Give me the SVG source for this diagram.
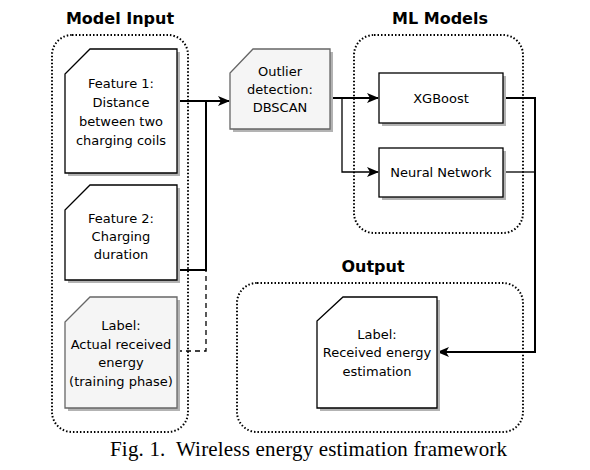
<svg xmlns="http://www.w3.org/2000/svg" width="590" height="470" viewBox="0 0 590 470">
<defs>
<style>
.cont{fill:none;stroke:#000;stroke-width:2;stroke-dasharray:1.5 2;}
.title{font-family:"DejaVu Sans",sans-serif;font-weight:bold;font-size:16px;fill:#000;text-anchor:middle;}
.lbl{font-family:"DejaVu Sans",sans-serif;font-size:13px;fill:#000;text-anchor:middle;}
.shadow{fill:#b3b3b3;stroke:none;}
.w{fill:#fff;stroke:#000;stroke-width:1.3;}
.g{fill:#f5f5f5;stroke:#666;stroke-width:1.3;}
.cap{font-family:"Liberation Serif",serif;font-size:21px;fill:#000;}
.c{fill:none;stroke:#000;stroke-width:2;}
.ct{fill:none;stroke:#000;stroke-width:1.3;}
</style>
<marker id="arr" viewBox="0 0 12 10" refX="11" refY="5" markerWidth="12" markerHeight="10" markerUnits="userSpaceOnUse" orient="auto">
<path d="M0,0 L12,5 L0,10 L3,5 Z" fill="#000"/>
</marker>
</defs>
<rect width="590" height="470" fill="#fff"/>

<g id="model-input">
<rect class="cont" x="52" y="35" width="136" height="397" rx="20"/>
<text class="title" x="120" y="24">Model Input</text>
</g>
<g id="ml-models">
<rect class="cont" x="354" y="35" width="169" height="198" rx="20"/>
<text class="title" x="440" y="24">ML Models</text>
</g>
<g id="output">
<rect class="cont" x="237" y="283" width="286" height="149" rx="20"/>
<text class="title" x="373" y="272">Output</text>
</g>

<g id="connectors">
<path class="c" d="M177,101 H229" marker-end="url(#arr)"/>
<path class="c" d="M177,270 H206 V101"/>
<path class="ct" d="M177,351 H206 V271" stroke-dasharray="5 4"/>
<path class="c" d="M330,98 H378" marker-end="url(#arr)"/>
<path class="ct" d="M342,98 V172 H378" marker-end="url(#arr)"/>
<path class="c" d="M503,98 H535 V352 H438" marker-end="url(#arr)"/>
<path class="ct" d="M503,172 H535"/>
</g>

<g id="feature1">
<path class="shadow" d="M93,52 H180 V176 H68 V76 Z"/>
<path class="w" d="M90,49 H177 V173 H65 V74 Z"/>
<text class="lbl" x="121" y="88">Feature 1:</text>
<text class="lbl" x="121" y="107">Distance</text>
<text class="lbl" x="121" y="126">between two</text>
<text class="lbl" x="121" y="145">charging coils</text>
</g>
<g id="feature2">
<path class="shadow" d="M93,188 H180 V283 H68 V213 Z"/>
<path class="w" d="M90,185 H177 V280 H65 V210 Z"/>
<text class="lbl" x="121" y="223">Feature 2:</text>
<text class="lbl" x="121" y="241">Charging</text>
<text class="lbl" x="121" y="259">duration</text>
</g>
<g id="label-actual">
<path class="shadow" d="M93,300 H180 V411 H68 V325 Z"/>
<path class="g" d="M90,297 H177 V408 H65 V322 Z"/>
<text class="lbl" x="121" y="330">Label:</text>
<text class="lbl" x="121" y="349">Actual received</text>
<text class="lbl" x="121" y="367">energy</text>
<text class="lbl" x="121" y="386">(training phase)</text>
</g>
<g id="outlier">
<path class="shadow" d="M256,52 H333 V132 H233 V76 Z"/>
<path class="g" d="M253,49 H330 V129 H230 V73 Z"/>
<text class="lbl" x="280" y="76">Outlier</text>
<text class="lbl" x="280" y="94">detection:</text>
<text class="lbl" x="280" y="112">DBSCAN</text>
</g>
<g id="xgboost">
<rect class="shadow" x="382" y="76" width="124" height="50"/>
<rect class="w" x="379" y="73" width="124" height="50"/>
<text class="lbl" x="441" y="103">XGBoost</text>
</g>
<g id="neural-network">
<rect class="shadow" x="382" y="151" width="124" height="49"/>
<rect class="w" x="379" y="148" width="124" height="49"/>
<text class="lbl" x="441" y="177">Neural Network</text>
</g>
<g id="label-output">
<path class="shadow" d="M346,300 H440 V411 H320 V324 Z"/>
<path class="w" d="M343,297 H437 V408 H317 V321 Z"/>
<text class="lbl" x="377" y="339">Label:</text>
<text class="lbl" x="377" y="357">Received energy</text>
<text class="lbl" x="377" y="376">estimation</text>
</g>

<text class="cap" x="110" y="456" textLength="397" lengthAdjust="spacing" xml:space="preserve">Fig. 1.  Wireless energy estimation framework</text>
</svg>
